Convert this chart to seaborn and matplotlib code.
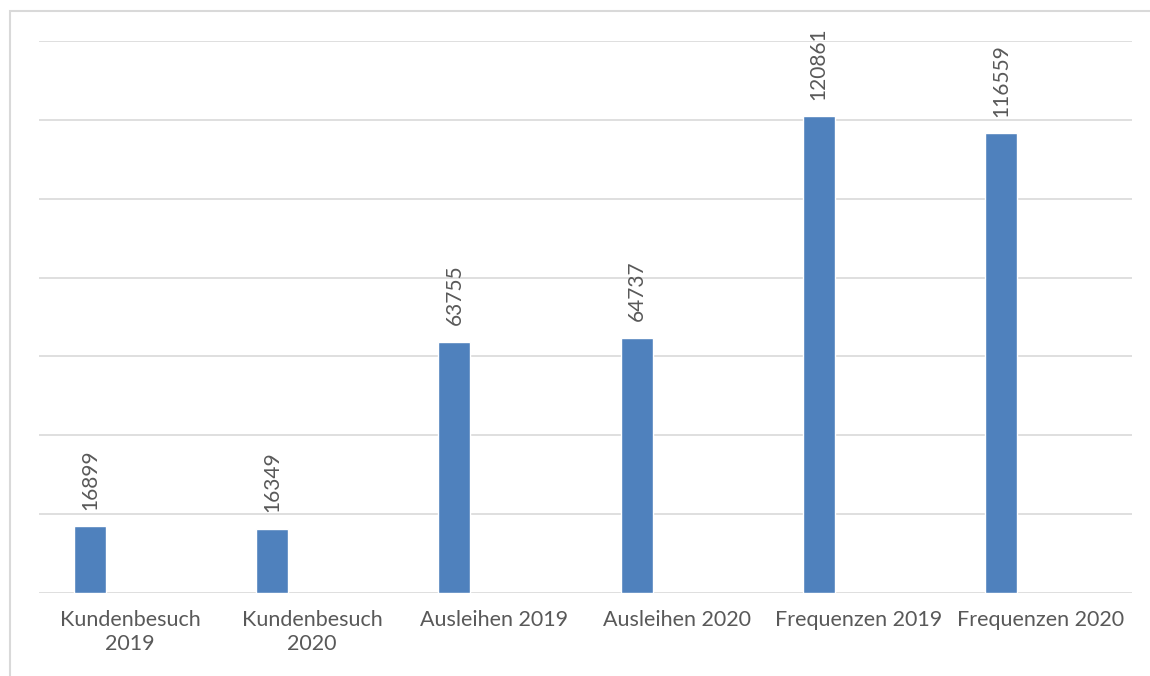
import matplotlib
matplotlib.use("Agg")
import matplotlib.pyplot as plt
import seaborn as sns
import numpy as np
from matplotlib.patches import Rectangle

categories = ["Kundenbesuch\n2019", "Kundenbesuch\n2020", "Ausleihen 2019",
              "Ausleihen 2020", "Frequenzen 2019", "Frequenzen 2020"]
values = [16899, 16349, 63755, 64737, 120861, 116559]

sns.set_theme(style="white")
plt.rcParams['font.family'] = ['Lato', 'DejaVu Sans']

W, H = 1150, 676
fig = plt.figure(figsize=(W / 100, H / 100), dpi=100)
ax = fig.add_axes([39 / W, 1 - 593 / H, (1132 - 39) / W, (593 - 41) / H])

bar_color = "#4f81bd"
text_color = "#595959"
shift = 0.2195

sns.barplot(x=list(range(len(values))), y=values, color=bar_color, saturation=1,
            width=0.176, ax=ax, native_scale=True)

ax.set_ylim(0, 140000)
ax.set_xlim(-0.5 + shift, len(values) - 0.5 + shift)
ax.set_yticks(np.arange(0, 140001, 20000))
ax.set_yticklabels([])
ax.yaxis.grid(True, color="#d9d9d9", linewidth=1.2)
ax.set_axisbelow(True)
ax.set_xticks(np.arange(len(values)) + shift)
ax.set_xticklabels(categories, color=text_color, fontsize=15.5, linespacing=1.3)
ax.tick_params(axis="x", length=0, pad=12)
ax.tick_params(axis="y", length=0)
for s in ["top", "right", "left", "bottom"]:
    ax.spines[s].set_visible(False)
ax.set_xlabel("")
ax.set_ylabel("")

for i, v in enumerate(values):
    ax.annotate(str(v), xy=(i, v), xytext=(0, 12), textcoords="offset points",
                rotation=90, ha="center", va="bottom", color=text_color, fontsize=15)

fig.patches.append(Rectangle((10 / W, -0.5), 2.0, 1 - 11 / H + 0.5, transform=fig.transFigure,
                             fill=False, edgecolor="#d9d9d9", linewidth=1.5, zorder=0))

fig.savefig("out.png", dpi=100, facecolor="white")
